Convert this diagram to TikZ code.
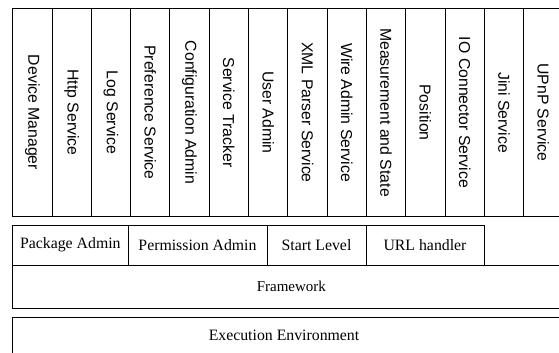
\documentclass[tikz,border=0pt]{standalone}
\usepackage{fontspec}
\setmainfont{Liberation Serif}
\newfontfamily\colfont{Liberation Sans}
\begin{document}
\begin{tikzpicture}[x=1pt,y=-1pt,
  box/.style={draw=black, line width=1pt, inner sep=0pt, outer sep=0pt},
  svc/.style={box, rotate=-90, minimum width=207pt, minimum height=39.3pt,
              font=\colfont\fontsize{15.8}{17}\selectfont},
  layer/.style={box, font=\fontsize{15.8}{17}\selectfont}]
\useasboundingbox (0,0) rectangle (559,353);

% service bundles, one column each
\foreach \lbl [count=\i from 0] in {Device Manager, Http Service, Log Service,
    Preference Service, Configuration Admin, Service Tracker, User Admin,
    XML Parser Service, Wire Admin Service, Measurement and State, Position,
    IO Connector Service, Jini Service, UPnP Service}
  \node[svc] (s\i) at ({12.7+39.3*\i+19.65}, 112.5) {\lbl};

% framework services
\node[layer, minimum width=115.3pt, minimum height=40pt] (pkg) at (70.35, 245) {Package Admin};
\node[layer, minimum width=139pt, minimum height=40pt] (perm) at (197.5, 245) {Permission Admin};
\node[layer, minimum width=99pt, minimum height=40pt] (start) at (316.5, 245) {Start Level};
\node[layer, minimum width=118pt, minimum height=40pt] (url) at (425, 245) {URL handler};

% framework and execution environment layers
\node[layer, minimum width=557.3pt, minimum height=43pt, font=\fontsize{15}{17}\selectfont] (fw) at (291.35, 286.5) {Framework};
\node[layer, minimum width=557.3pt, minimum height=53pt] (ee) at (291.35, 343.5) {};
\node[font=\fontsize{15.8}{17}\selectfont] (eelbl) at (284, 335) {Execution Environment};
\end{tikzpicture}
\end{document}
